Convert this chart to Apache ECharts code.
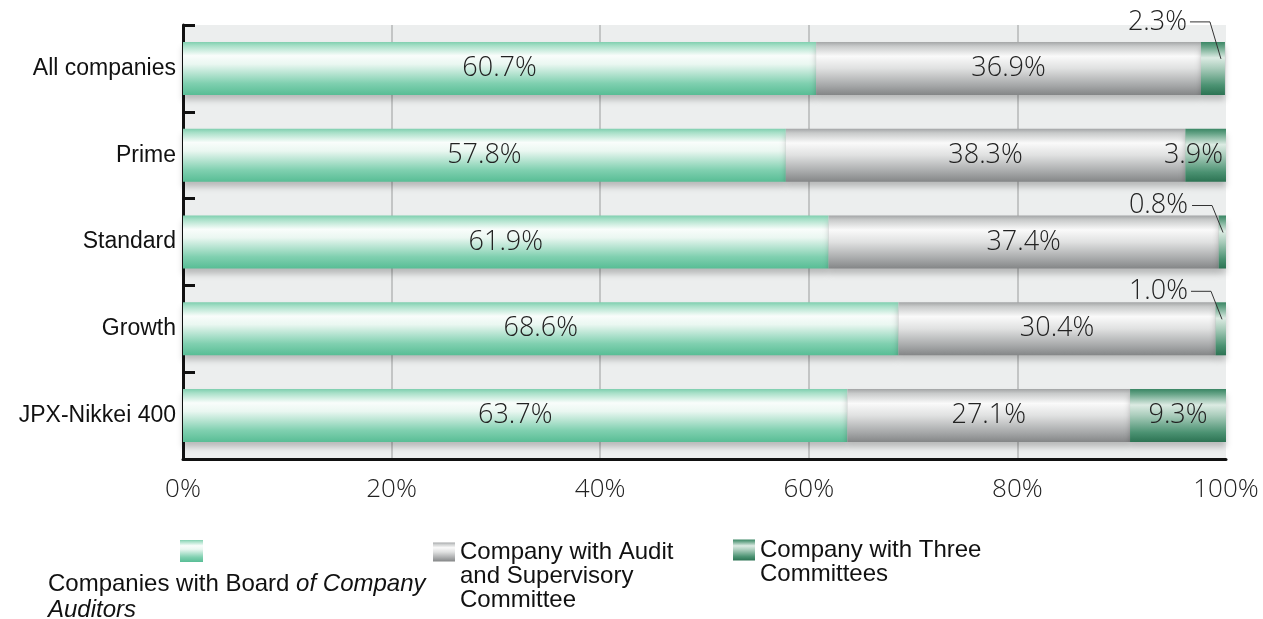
<!DOCTYPE html>
<html>
<head>
<meta charset="utf-8">
<script src="https://cdn.jsdelivr.net/npm/echarts@6/dist/echarts.min.js"></script>
<style>
  html, body { margin: 0; padding: 0; background: #fff; }
  #chart { width: 1263px; height: 619px; }
</style>
</head>
<body>
<div id="chart"></div>
<script>
// Board structure by market segment (share of companies, %)
const categories = ['All companies', 'Prime', 'Standard', 'Growth', 'JPX-Nikkei 400'];
const boardOfAuditors = [60.7, 57.8, 61.9, 68.6, 63.7];
const auditSupervisory = [36.9, 38.3, 37.4, 30.4, 27.1];
const threeCommittees = [2.3, 3.9, 0.8, 1.0, 9.3];
const xTicks = [0, 20, 40, 60, 80, 100];
const seriesNames = [
  'Companies with Board of Company Auditors',
  'Company with Audit and Supervisory Committee',
  'Company with Three Committees'
];

// Layout constants for the callout labels of narrow segments
const CALLOUT_MAX = 3;            // segments below this share get a callout
const CALLOUT_RAISE = [20, 0, 10, 11, 0]; // label lift above the bar top, px
const BAR_W = 53;

const NUM_FONT = '"Open Sans", "DejaVu Sans", sans-serif';
const TXT_FONT = '"Liberation Sans", Arial, sans-serif';

function vGrad(stops) {
  return new echarts.graphic.LinearGradient(0, 0, 0, 1,
    stops.map(s => ({ offset: s[0], color: s[1] })));
}

const greenFill = vGrad([[0, '#7fcfaf'], [0.07, '#a6dfc7'], [0.26, '#f9fdfb'], [0.42, '#eaf7f1'], [0.78, '#80d0b0'], [1, '#58bd95']]);
const grayFill = vGrad([[0, '#a3a5a6'], [0.08, '#c8caca'], [0.27, '#fafafa'], [0.5, '#e0e1e1'], [0.82, '#a6a8a9'], [1, '#848687']]);
const darkFill = vGrad([[0, '#3a8664'], [0.1, '#6aa68a'], [0.3, '#dcebe3'], [0.5, '#a9ccbb'], [0.82, '#4b9272'], [1, '#2c7353']]);

const shadow = { shadowBlur: 6, shadowColor: 'rgba(0,0,0,0.22)', shadowOffsetY: 5 };

const valueLabel = {
  show: true,
  position: 'inside',
  color: '#222',
  fontFamily: NUM_FONT,
  fontWeight: 300,
  fontSize: 27,
  formatter: p => p.value.toFixed(1) + '%'
};

// Wide segments keep the label inside; mid-size ones hug the bar end.
const threeData = threeCommittees.map(v => {
  if (v >= 5) return { value: v };
  if (v >= CALLOUT_MAX) return { value: v, label: { position: 'insideRight', distance: 3 } };
  return { value: v };
});

const legendText = { color: '#111', fontFamily: TXT_FONT, fontSize: 24, lineHeight: 24 };

const chart = echarts.init(document.getElementById('chart'));

chart.setOption({
  animation: false,
  backgroundColor: '#ffffff',
  grid: {
    left: 183, right: 37, top: 25, bottom: 160,
    show: true, backgroundColor: '#eceeee', borderWidth: 0
  },
  xAxis: {
    type: 'value',
    min: 0, max: 100, interval: 20,
    axisLine: { show: true, lineStyle: { color: '#111', width: 3 } },
    axisTick: { show: false },
    splitLine: {
      show: true,
      lineStyle: { color: ['transparent', '#c3c5c5', '#c3c5c5', '#c3c5c5', '#c3c5c5', 'transparent'], width: 2 }
    },
    axisLabel: {
      color: '#222', fontFamily: NUM_FONT, fontWeight: 300, fontSize: 26, margin: 18,
      formatter: v => (xTicks.indexOf(v) >= 0 ? v + '%' : '')
    }
  },
  yAxis: {
    type: 'category',
    data: categories,
    inverse: true,
    axisLine: { show: true, onZero: false, lineStyle: { color: '#111', width: 3 } },
    axisTick: { show: true, inside: true, length: 12, lineStyle: { color: '#111', width: 3 } },
    splitLine: { show: false },
    axisLabel: { color: '#111', fontFamily: TXT_FONT, fontSize: 23, margin: 7 }
  },
  legend: [
    {
      data: [seriesNames[0]], left: 180, top: 540, padding: 0, icon: 'rect',
      itemWidth: 23, itemHeight: 22, formatter: () => '',
      textStyle: { fontSize: 1 }
    },
    {
      // leading blank lines keep the first text line level with the swatch
      data: [seriesNames[1]], left: 433, top: 492, padding: 0, icon: 'rect',
      itemWidth: 22, itemHeight: 19, itemGap: 0,
      formatter: () => '\n\nCompany with Audit\nand Supervisory\nCommittee',
      textStyle: legendText
    },
    {
      data: [seriesNames[2]], left: 733, top: 514, padding: 0, icon: 'rect',
      itemWidth: 22, itemHeight: 21,
      formatter: () => '\nCompany with Three\nCommittees',
      textStyle: legendText
    }
  ],
  graphic: [
    {
      id: 'legend-caption', type: 'text', left: 48, top: 572,
      style: {
        text: '{n|Companies with Board }{i|of Company}\n{i|Auditors}',
        fill: '#111',
        rich: {
          n: { fontFamily: TXT_FONT, fontSize: 24, lineHeight: 26, fill: '#111' },
          i: { fontFamily: TXT_FONT, fontSize: 24, lineHeight: 26, fontStyle: 'italic', fill: '#111' }
        }
      }
    }
  ],
  series: [
    {
      name: seriesNames[0], type: 'bar', stack: 'total', barWidth: BAR_W,
      data: boardOfAuditors,
      itemStyle: Object.assign({ color: greenFill }, shadow),
      label: valueLabel
    },
    {
      name: seriesNames[1], type: 'bar', stack: 'total', barWidth: BAR_W,
      data: auditSupervisory,
      itemStyle: Object.assign({ color: grayFill }, shadow),
      label: valueLabel
    },
    {
      name: seriesNames[2], type: 'bar', stack: 'total', barWidth: BAR_W,
      data: threeData,
      itemStyle: Object.assign({ color: darkFill }, shadow),
      label: valueLabel,
      labelLayout: function (p) {
        if (threeCommittees[p.dataIndex] >= CALLOUT_MAX) return {};
        const r = p.rect;
        return {
          x: r.x + r.width - 38, y: r.y - CALLOUT_RAISE[p.dataIndex],
          align: 'right', verticalAlign: 'middle'
        };
      }
    }
  ]
});

// Leader lines from the callout labels into their narrow segments,
// positioned through the chart's own axes.
const leaders = [];
threeCommittees.forEach((v, i) => {
  if (v >= CALLOUT_MAX) return;
  const total = boardOfAuditors[i] + auditSupervisory[i] + v;
  const p = chart.convertToPixel({ xAxisIndex: 0, yAxisIndex: 0 }, [total, i]);
  const end = p[0];
  const top = p[1] - BAR_W / 2;
  const ly = top - CALLOUT_RAISE[i];
  leaders.push({
    id: 'leader-' + i, type: 'polyline', z: 10,
    shape: { points: [[end - 35, ly], [end - 15, ly], [end - 4, top + 17]] },
    style: { stroke: '#333', lineWidth: 1, fill: null }
  });
});
chart.setOption({ graphic: leaders });
</script>
</body>
</html>
